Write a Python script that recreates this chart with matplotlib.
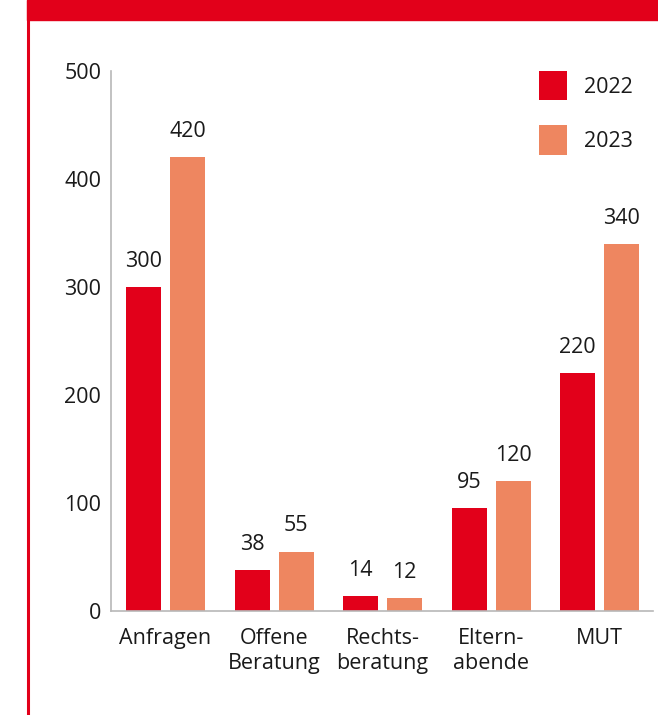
import matplotlib
matplotlib.use("Agg")
import matplotlib.pyplot as plt
from matplotlib.patches import Rectangle
from matplotlib.lines import Line2D
import numpy as np

plt.rcParams['font.family'] = ['Open Sans', 'DejaVu Sans']

# Daten
kategorien = ["Anfragen", "Offene\nBeratung", "Rechts-\nberatung", "Eltern-\nabende", "MUT"]
werte_2022 = [300, 38, 14, 95, 220]
werte_2023 = [420, 55, 12, 120, 340]
jahre = ["2022", "2023"]

rot = "#E2001A"
lachs = "#EE8660"
textfarbe = "#1a1a1a"
fs = 15.5

fig = plt.figure(figsize=(6.58, 7.15), dpi=100)
ax = fig.add_axes([111 / 658, 1 - 611 / 715, (653 - 111) / 658, (611 - 71) / 715])

x = np.arange(len(kategorien))
breite = 0.322
versatz = 0.2026

b1 = ax.bar(x - versatz, werte_2022, breite, color=rot, label=jahre[0])
b2 = ax.bar(x + versatz, werte_2023, breite, color=lachs, label=jahre[1])

for balken in (b1, b2):
    for rect in balken:
        h = rect.get_height()
        ax.annotate(f"{h:.0f}", (rect.get_x() + rect.get_width() / 2, h),
                    xytext=(0, 11), textcoords="offset points",
                    ha="center", va="bottom", fontsize=fs, color=textfarbe)

ax.set_xlim(-0.502, 4.49)
ax.set_ylim(0, 500)
ax.set_yticks([0, 100, 200, 300, 400, 500])
ax.set_xticks(x)
ax.set_xticklabels(kategorien, linespacing=1.25)
ax.tick_params(axis="y", length=0, pad=7, labelsize=fs, labelcolor=textfarbe)
ax.tick_params(axis="x", length=0, pad=12.5, labelsize=fs, labelcolor=textfarbe)

for s in ("top", "right"):
    ax.spines[s].set_visible(False)
for s in ("left", "bottom"):
    ax.spines[s].set_color("#b8b8b8")
    ax.spines[s].set_linewidth(1.2)

leg = ax.legend(loc="upper left", bbox_to_anchor=(539 / 658, 1 - 71 / 715),
                bbox_transform=fig.transFigure, frameon=False, fontsize=fs,
                handlelength=1.3, handleheight=1.71, handletextpad=0.8,
                labelspacing=1.17, borderpad=0, borderaxespad=0)
for t in leg.get_texts():
    t.set_color(textfarbe)

# roter Rahmen oben und links
fig.patches.append(Rectangle((27 / 658, 1 - 20 / 715), 1, 20 / 715,
                             transform=fig.transFigure, color=rot, zorder=5))
fig.lines.append(Line2D([27.5 / 658, 27.5 / 658], [0, 1], transform=fig.transFigure,
                        color=rot, linewidth=2.2))

fig.savefig("out.png", dpi=100)
